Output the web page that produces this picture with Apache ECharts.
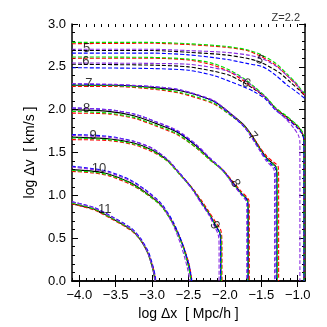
<!DOCTYPE html>
<html>
<head>
<meta charset="utf-8">
<script src="https://cdn.jsdelivr.net/npm/echarts@6/dist/echarts.min.js"></script>
<style>
    html, body { margin: 0; padding: 0; background: #fff; }
    #chart { width: 327px; height: 327px; }
</style>
</head>
<body>
<div id="chart"></div>
<script>
// contour curves, [log dx, log dv] pairs
const lv5Black = [[-4.1,2.69],[-3.0,2.69],[-2.5,2.67],[-2.0,2.64],[-1.7,2.60],[-1.5,2.55],[-1.25,2.43],[-1.1,2.32],[-0.98,2.23],[-0.9,2.16]];
const lv5Red = [[-4.1,2.77],[-3.0,2.775],[-2.5,2.76],[-2.0,2.73],[-1.7,2.69],[-1.5,2.62],[-1.3,2.52],[-1.15,2.40],[-1.02,2.29],[-0.95,2.21],[-0.9,2.17]];
const lv5Green = [[-4.1,2.785],[-3.0,2.785],[-2.5,2.77],[-2.0,2.74],[-1.7,2.70],[-1.5,2.64],[-1.3,2.54],[-1.15,2.42],[-1.02,2.31],[-0.95,2.23],[-0.9,2.19]];
const lv5Blue = [[-4.1,2.66],[-3.0,2.66],[-2.5,2.64],[-2.0,2.59],[-1.7,2.54],[-1.48,2.50],[-1.3,2.40],[-1.15,2.29],[-1.02,2.21],[-0.9,2.13]];
const lv5Purple = [[-4.1,2.705],[-3.0,2.705],[-2.5,2.69],[-2.0,2.67],[-1.7,2.64],[-1.5,2.60],[-1.3,2.51],[-1.15,2.40],[-1.02,2.30],[-0.95,2.22],[-0.9,2.18]];

const lv6Black = [[-4.1,2.53],[-3.0,2.52],[-2.5,2.50],[-2.16,2.45],[-1.93,2.40],[-1.75,2.32],[-1.60,2.24],[-1.45,2.15],[-1.30,2.01],[-1.16,1.92],[-1.02,1.82],[-0.95,1.75],[-0.92,1.68],[-0.915,1.5],[-0.915,0]];
const lv6Red = [[-4.1,2.60],[-3.0,2.60],[-2.5,2.58],[-2.16,2.52],[-1.93,2.44],[-1.75,2.34],[-1.60,2.25],[-1.45,2.15],[-1.30,2.01],[-1.16,1.91],[-1.02,1.81],[-0.95,1.74],[-0.915,1.67],[-0.91,1.5],[-0.91,0]];
const lv6Green = [[-4.1,2.615],[-3.0,2.61],[-2.5,2.59],[-2.16,2.54],[-1.93,2.46],[-1.75,2.37],[-1.60,2.27],[-1.45,2.16],[-1.30,2.02],[-1.16,1.93],[-1.02,1.83],[-0.95,1.76],[-0.915,1.70],[-0.912,1.5],[-0.912,0]];
const lv6Blue = [[-4.1,2.49],[-3.0,2.48],[-2.5,2.46],[-2.16,2.40],[-1.93,2.33],[-1.75,2.27],[-1.60,2.21],[-1.45,2.13],[-1.30,1.99],[-1.16,1.90],[-1.02,1.80],[-0.95,1.73],[-0.918,1.66],[-0.915,1.5],[-0.915,0]];
const lv6Purple = [[-4.1,2.545],[-3.0,2.54],[-2.5,2.53],[-2.16,2.49],[-1.93,2.44],[-1.75,2.36],[-1.60,2.26],[-1.45,2.15],[-1.30,2.00],[-1.16,1.89],[-1.05,1.78],[-0.99,1.70],[-0.97,1.62],[-0.97,0]];

const lv7Black = [[-4.1,2.285],[-3.5,2.285],[-3.0,2.26],[-2.61,2.22],[-2.16,2.10],[-1.93,1.96],[-1.75,1.83],[-1.63,1.70],[-1.52,1.55],[-1.42,1.43],[-1.34,1.37],[-1.295,1.33],[-1.285,1.2],[-1.285,0]];
const lv7Red = [[-4.1,2.27],[-3.5,2.27],[-3.0,2.24],[-2.61,2.19],[-2.16,2.07],[-1.93,1.94],[-1.75,1.82],[-1.63,1.70],[-1.52,1.56],[-1.42,1.45],[-1.32,1.38],[-1.27,1.34],[-1.262,1.2],[-1.262,0]];
const lv7Green = [[-4.1,2.29],[-3.5,2.28],[-3.0,2.25],[-2.61,2.20],[-2.16,2.08],[-1.93,1.94],[-1.75,1.82],[-1.63,1.69],[-1.52,1.54],[-1.42,1.42],[-1.34,1.36],[-1.29,1.32],[-1.278,1.2],[-1.278,0]];
const lv7Blue = [[-4.1,2.30],[-3.5,2.29],[-3.0,2.27],[-2.61,2.23],[-2.16,2.10],[-1.93,1.95],[-1.75,1.81],[-1.63,1.68],[-1.52,1.53],[-1.42,1.41],[-1.35,1.35],[-1.305,1.31],[-1.298,1.2],[-1.298,0]];
const lv7Purple = [[-4.1,2.305],[-3.5,2.295],[-3.0,2.27],[-2.61,2.23],[-2.16,2.11],[-1.93,1.96],[-1.75,1.82],[-1.63,1.67],[-1.52,1.52],[-1.43,1.40],[-1.36,1.34],[-1.325,1.30],[-1.318,1.2],[-1.318,0]];

const lv8Black = [[-4.1,2.00],[-3.6,1.98],[-3.25,1.93],[-2.95,1.84],[-2.66,1.74],[-2.4,1.58],[-2.2,1.42],[-2.03,1.29],[-1.90,1.16],[-1.78,1.03],[-1.71,0.97],[-1.685,0.93],[-1.68,0.8],[-1.68,0]];
const lv8Red = [[-4.1,1.96],[-3.6,1.95],[-3.25,1.90],[-2.95,1.81],[-2.66,1.71],[-2.4,1.56],[-2.2,1.41],[-2.03,1.30],[-1.90,1.17],[-1.78,1.05],[-1.70,0.98],[-1.67,0.94],[-1.665,0.8],[-1.665,0]];
const lv8Green = [[-4.1,1.98],[-3.6,1.96],[-3.25,1.91],[-2.95,1.82],[-2.66,1.72],[-2.4,1.56],[-2.2,1.41],[-2.03,1.29],[-1.90,1.15],[-1.78,1.03],[-1.72,0.97],[-1.69,0.93],[-1.685,0.8],[-1.685,0]];
const lv8Blue = [[-4.1,2.02],[-3.6,2.00],[-3.25,1.95],[-2.95,1.86],[-2.66,1.75],[-2.4,1.59],[-2.2,1.43],[-2.03,1.30],[-1.90,1.15],[-1.78,1.02],[-1.71,0.96],[-1.69,0.92],[-1.687,0.8],[-1.687,0]];
const lv8Purple = [[-4.1,2.02],[-3.6,2.00],[-3.25,1.95],[-2.95,1.86],[-2.66,1.76],[-2.4,1.60],[-2.2,1.43],[-2.03,1.29],[-1.90,1.14],[-1.78,1.01],[-1.72,0.95],[-1.70,0.91],[-1.70,0.8],[-1.70,0]];

const lv9Black = [[-4.1,1.68],[-3.6,1.66],[-3.25,1.61],[-3.0,1.53],[-2.79,1.41],[-2.61,1.24],[-2.45,1.08],[-2.33,0.93],[-2.22,0.79],[-2.14,0.67],[-2.08,0.58],[-2.06,0.53],[-2.055,0.4],[-2.055,0]];
const lv9Red = [[-4.1,1.65],[-3.6,1.64],[-3.25,1.59],[-3.0,1.51],[-2.79,1.40],[-2.61,1.24],[-2.45,1.09],[-2.33,0.95],[-2.22,0.81],[-2.13,0.69],[-2.06,0.60],[-2.045,0.54],[-2.04,0.4],[-2.04,0]];
const lv9Green = [[-4.1,1.67],[-3.6,1.65],[-3.25,1.60],[-3.0,1.52],[-2.79,1.40],[-2.61,1.23],[-2.45,1.08],[-2.33,0.93],[-2.22,0.79],[-2.14,0.67],[-2.075,0.58],[-2.055,0.53],[-2.05,0.4],[-2.05,0]];
const lv9Blue = [[-4.1,1.71],[-3.6,1.69],[-3.25,1.63],[-3.0,1.55],[-2.79,1.42],[-2.61,1.25],[-2.45,1.08],[-2.33,0.92],[-2.22,0.78],[-2.14,0.66],[-2.08,0.57],[-2.065,0.52],[-2.06,0.4],[-2.06,0]];
const lv9Purple = [[-4.1,1.70],[-3.6,1.68],[-3.25,1.63],[-3.0,1.55],[-2.79,1.42],[-2.61,1.24],[-2.45,1.07],[-2.33,0.91],[-2.22,0.77],[-2.15,0.65],[-2.10,0.56],[-2.085,0.51],[-2.08,0.4],[-2.08,0]];

const lv10Black = [[-4.1,1.30],[-3.8,1.28],[-3.6,1.25],[-3.3,1.15],[-3.1,1.04],[-2.88,0.89],[-2.71,0.67],[-2.58,0.42],[-2.50,0.18],[-2.465,0.02],[-2.46,0]];
const lv10Red = [[-4.1,1.28],[-3.8,1.26],[-3.6,1.23],[-3.3,1.13],[-3.1,1.03],[-2.88,0.88],[-2.71,0.67],[-2.58,0.43],[-2.49,0.19],[-2.455,0.02],[-2.45,0]];
const lv10Green = [[-4.1,1.29],[-3.8,1.27],[-3.6,1.24],[-3.3,1.14],[-3.1,1.03],[-2.88,0.88],[-2.71,0.66],[-2.58,0.41],[-2.50,0.17],[-2.465,0.02],[-2.46,0]];
const lv10Blue = [[-4.1,1.34],[-3.8,1.31],[-3.6,1.28],[-3.3,1.18],[-3.1,1.07],[-2.88,0.91],[-2.71,0.69],[-2.58,0.43],[-2.49,0.18],[-2.457,0.02],[-2.455,0]];
const lv10Purple = [[-4.1,1.33],[-3.8,1.30],[-3.6,1.27],[-3.3,1.17],[-3.1,1.06],[-2.88,0.90],[-2.72,0.67],[-2.60,0.41],[-2.52,0.17],[-2.485,0.02],[-2.48,0]];

const lv11Black = [[-4.1,0.90],[-3.8,0.84],[-3.57,0.74],[-3.29,0.60],[-3.16,0.48],[-3.06,0.33],[-3.0,0.17],[-2.97,0.05],[-2.965,0]];
const lv11Red = [[-4.1,0.90],[-3.8,0.83],[-3.57,0.73],[-3.29,0.59],[-3.16,0.48],[-3.06,0.33],[-2.99,0.17],[-2.96,0.05],[-2.955,0]];
const lv11Green = [[-4.1,0.91],[-3.8,0.84],[-3.57,0.74],[-3.29,0.60],[-3.16,0.48],[-3.06,0.33],[-3.0,0.17],[-2.965,0.05],[-2.96,0]];
const lv11Blue = [[-4.1,0.925],[-3.8,0.86],[-3.57,0.76],[-3.29,0.62],[-3.16,0.50],[-3.05,0.34],[-2.99,0.18],[-2.955,0.05],[-2.95,0]];
const lv11Purple = [[-4.1,0.925],[-3.8,0.855],[-3.57,0.755],[-3.29,0.61],[-3.16,0.49],[-3.06,0.33],[-3.0,0.17],[-2.965,0.05],[-2.96,0]];

// contour level labels
const levelNames = ['5', '6', '7', '8', '9', '10', '11'];
const leftLabelPos = [[-3.90,2.72],[-3.91,2.56],[-3.87,2.31],[-3.90,2.02],[-3.81,1.70],[-3.73,1.31],[-3.65,0.83]];
const rightLabelNames = ['5', '6', '7', '8', '9'];
const rightLabelPos = [[-1.52,2.58],[-1.71,2.31],[-1.62,1.69],[-1.86,1.14],[-2.14,0.65]];
const rightLabelRot = [-25, -35, -50, -60, -60];

const xMajorTicks = [-4.0, -3.5, -3.0, -2.5, -2.0, -1.5, -1.0];

const FONT = '"Liberation Sans", Helvetica, Arial, sans-serif';
const variantColors = ['#000000', '#ff0000', '#00e000', '#0000ff', '#8a2be2'];

const curves = [
    [lv5Black, lv5Red, lv5Green, lv5Blue, lv5Purple],
    [lv6Black, lv6Red, lv6Green, lv6Blue, lv6Purple],
    [lv7Black, lv7Red, lv7Green, lv7Blue, lv7Purple],
    [lv8Black, lv8Red, lv8Green, lv8Blue, lv8Purple],
    [lv9Black, lv9Red, lv9Green, lv9Blue, lv9Purple],
    [lv10Black, lv10Red, lv10Green, lv10Blue, lv10Purple],
    [lv11Black, lv11Red, lv11Green, lv11Blue, lv11Purple]
];

const series = [];
curves.forEach((set, li) => {
    set.forEach((pts, vi) => {
        // black is solid except on the two outer levels
        const dashed = vi > 0 || li < 2;
        series.push({
            type: 'line',
            name: 'lv' + levelNames[li] + '-' + vi,
            xAxisIndex: 0,
            yAxisIndex: 0,
            data: pts,
            showSymbol: false,
            smooth: 0.25,
            silent: true,
            lineStyle: {
                color: variantColors[vi],
                width: 1.1,
                type: dashed ? [4, 2] : 'solid'
            },
            z: 2 + vi
        });
    });
});

const labelData = leftLabelPos.map((p, i) => ({ value: p, label: { formatter: levelNames[i] } }))
    .concat(rightLabelPos.map((p, i) => ({
        value: p, label: { formatter: rightLabelNames[i], rotate: rightLabelRot[i] }
    })));

series.push({
    type: 'scatter',
    xAxisIndex: 0,
    yAxisIndex: 0,
    symbolSize: 0,
    silent: true,
    z: 10,
    data: labelData,
    label: {
        show: true,
        position: 'inside',
        color: '#000',
        fontSize: 13,
        fontFamily: FONT
    }
});

const fmt = v => (v < 0 ? '\u2212' : '') + Math.abs(v).toFixed(1);
const axisLine = { show: true, lineStyle: { color: '#000', width: 1.5 } };

const chart = echarts.init(document.getElementById('chart'), null, { renderer: 'canvas' });
chart.setOption({
    animation: false,
    backgroundColor: '#fff',
    title: {
        text: 'Z=2.2',
        right: 22,
        top: 7,
        textStyle: { fontSize: 11, fontWeight: 'normal', color: '#333', fontFamily: FONT }
    },
    grid: [
        { left: 72, right: 22, top: 24, bottom: 46 },
        { left: 72, right: 22, top: 24, bottom: 46 }
    ],
    xAxis: [
        {
            gridIndex: 0, type: 'value', position: 'bottom', min: -4.1, max: -0.9,
            axisLine: axisLine,
            axisTick: { inside: true, length: 6, customValues: xMajorTicks, lineStyle: { color: '#000', width: 1 } },
            axisLabel: { customValues: xMajorTicks, formatter: fmt, color: '#000', fontSize: 13, fontFamily: FONT, margin: 8 },
            splitLine: { show: false },
            name: 'log \u0394x  [ Mpc/h ]',
            nameLocation: 'middle',
            nameGap: 22,
            nameTextStyle: { color: '#000', fontSize: 14, fontFamily: FONT }
        },
        {
            gridIndex: 0, type: 'value', position: 'top', min: -4.1, max: -0.9,
            axisLine: axisLine,
            axisTick: { inside: true, length: 6, customValues: xMajorTicks, lineStyle: { color: '#000', width: 1 } },
            axisLabel: { show: false },
            splitLine: { show: false }
        },
        {
            gridIndex: 1, type: 'value', position: 'bottom', min: -4.1, max: -0.9, interval: 0.1,
            axisLine: { show: false },
            axisTick: { inside: true, length: 3, lineStyle: { color: '#000', width: 1 } },
            axisLabel: { show: false },
            splitLine: { show: false }
        },
        {
            gridIndex: 1, type: 'value', position: 'top', min: -4.1, max: -0.9, interval: 0.1,
            axisLine: { show: false },
            axisTick: { inside: true, length: 3, lineStyle: { color: '#000', width: 1 } },
            axisLabel: { show: false },
            splitLine: { show: false }
        }
    ],
    yAxis: [
        {
            gridIndex: 0, type: 'value', position: 'left', min: 0, max: 3, interval: 0.5,
            axisLine: axisLine,
            axisTick: { inside: true, length: 6, lineStyle: { color: '#000', width: 1 } },
            minorTick: { show: true, splitNumber: 5, length: 3, lineStyle: { color: '#000', width: 1 } },
            axisLabel: { formatter: fmt, color: '#000', fontSize: 13, fontFamily: FONT, margin: 6 },
            splitLine: { show: false },
            minorSplitLine: { show: false },
            name: 'log \u0394v  [ km/s ]',
            nameLocation: 'middle',
            nameGap: 31,
            nameTextStyle: { color: '#000', fontSize: 14, fontFamily: FONT }
        },
        {
            gridIndex: 0, type: 'value', position: 'right', min: 0, max: 3, interval: 0.5,
            axisLine: axisLine,
            axisTick: { inside: true, length: 6, lineStyle: { color: '#000', width: 1 } },
            minorTick: { show: true, splitNumber: 5, length: 3, lineStyle: { color: '#000', width: 1 } },
            axisLabel: { show: false },
            splitLine: { show: false }
        },
        {
            gridIndex: 1, type: 'value', min: 0, max: 3, show: false
        }
    ],
    series: series
});
</script>
</body>
</html>
